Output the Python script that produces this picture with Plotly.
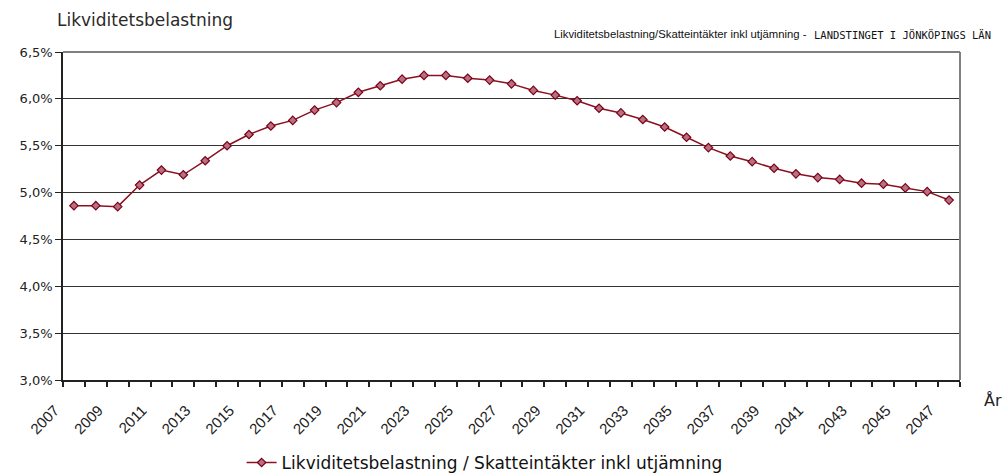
import plotly.graph_objects as go

years = list(range(2007, 2048))
values = [4.86, 4.86, 4.85, 5.08, 5.24, 5.19, 5.34, 5.50, 5.62, 5.71,
          5.77, 5.88, 5.96, 6.07, 6.14, 6.21, 6.25, 6.25, 6.22, 6.20,
          6.16, 6.09, 6.04, 5.98, 5.90, 5.85, 5.78, 5.70, 5.59, 5.48,
          5.39, 5.33, 5.26, 5.20, 5.16, 5.14, 5.10, 5.09, 5.05, 5.01, 4.92]
y_ticks = [3.0, 3.5, 4.0, 4.5, 5.0, 5.5, 6.0, 6.5]
y_ticktext = ["3,0%", "3,5%", "4,0%", "4,5%", "5,0%", "5,5%", "6,0%", "6,5%"]
x_label_years = [y for y in years if y % 2 == 1]
series_name = "Likviditetsbelastning / Skatteintäkter inkl utjämning"

fig = go.Figure()
fig.add_trace(go.Scatter(
    x=years, y=values, mode="lines+markers", name=series_name,
    line=dict(color="#8B1020", width=1.5),
    marker=dict(symbol="diamond", size=6.5, color="#B87080",
                line=dict(color="#7A0018", width=1.2)),
))

fig.update_layout(
    width=1007, height=473,
    margin=dict(l=63, r=47, t=52, b=93, autoexpand=False),
    paper_bgcolor="white", plot_bgcolor="white",
    font=dict(family="Liberation Sans, Arial", color="#222222"),
    showlegend=True,
    legend=dict(orientation="h", x=0.47, xanchor="center", y=-0.253, yanchor="middle",
                font=dict(family="DejaVu Sans", size=17, color="#111111")),
    xaxis=dict(
        range=[2006.5, 2047.5],
        tickmode="array",
        tickvals=x_label_years,
        ticktext=[str(y) for y in x_label_years],
        tickangle=-45, ticks="", ticklen=0,
        ticklabelstandoff=14, ticklabelshift=-19,
        tickfont=dict(family="Liberation Sans", size=15, color="#222222"),
        showgrid=False, zeroline=False, automargin=False,
        showline=True, linecolor="#222222", linewidth=1.5,
        minor=dict(tickmode="linear", tick0=2006.5, dtick=1, ticks="outside",
                   ticklen=5, tickcolor="#222222", tickwidth=1.5, showgrid=False),
        mirror=False,
    ),
    yaxis=dict(
        range=[3.0, 6.5],
        tickmode="array", tickvals=y_ticks, ticktext=y_ticktext,
        ticks="outside", ticklen=6, tickcolor="#222222",
        tickfont=dict(family="DejaVu Sans", size=13, color="#222222"),
        showgrid=True, gridcolor="#333333", gridwidth=1,
        zeroline=False, automargin=False,
        showline=True, linecolor="#222222", linewidth=1.5,
    ),
)

# right and top plot border in grey
fig.add_shape(type="line", xref="paper", yref="paper", x0=1, x1=1, y0=0, y1=1,
              line=dict(color="#808080", width=2))
fig.add_shape(type="line", xref="paper", yref="paper", x0=0, x1=1, y0=1, y1=1,
              line=dict(color="#808080", width=2))

fig.add_annotation(text="Likviditetsbelastning", xref="paper", yref="paper",
                   x=-0.009, y=1.0, yshift=32, xanchor="left", yanchor="middle",
                   showarrow=False, font=dict(family="DejaVu Sans", size=17, color="#2a2a2a"))
fig.add_annotation(text="Likviditetsbelastning/Skatteintäkter inkl utjämning - ",
                   xref="paper", yref="paper", x=0.545, y=1.0, yshift=18,
                   xanchor="left", yanchor="middle", showarrow=False,
                   font=dict(family="Liberation Sans", size=11.3, color="#111111"))
fig.add_annotation(text="LANDSTINGET I JÖNKÖPINGS LÄN",
                   xref="paper", yref="paper", x=1.037, y=1.0, yshift=17,
                   xanchor="right", yanchor="middle", showarrow=False,
                   font=dict(family="DejaVu Sans Mono", size=10.5, color="#111111"))
fig.add_annotation(text="År", xref="paper", yref="paper", x=1.037, y=0, yshift=-20,
                   xanchor="center", yanchor="middle", showarrow=False,
                   font=dict(family="DejaVu Sans", size=16, color="#222222"))

fig.write_html("out.html", config={"displayModeBar": False},
               post_script="document.body.style.margin='0';document.body.style.padding='0';")
